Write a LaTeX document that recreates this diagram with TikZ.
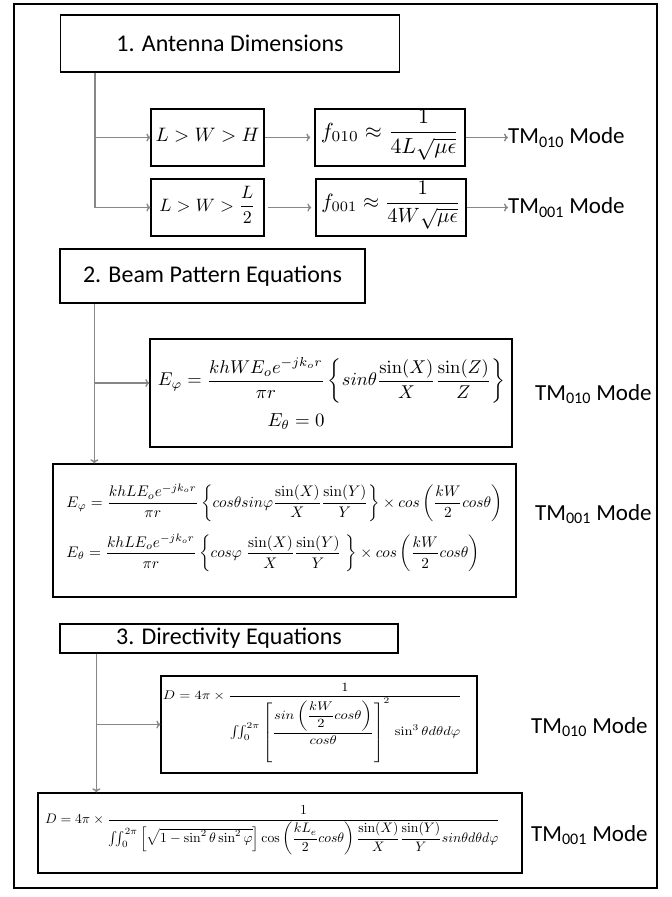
\documentclass[tikz,border=0pt]{standalone}
\usepackage[no-math]{fontspec}
\usepackage{amsmath}
\usepackage{graphicx}
\newfontfamily\calibri{Carlito}
\usetikzlibrary{arrows.meta}
\definecolor{conngray}{RGB}{135,135,135}
\newcommand{\fitw}[2]{\smash{$\vcenter{\hbox{\resizebox{#1pt}{!}{$\displaystyle #2$}}}$}}
\newcommand{\fitwh}[3]{\smash{$\vcenter{\hbox{\resizebox*{#1pt}{#2pt}{$\displaystyle #3$}}}$}}
\tikzset{
  box/.style={draw=black, line width=1.3pt, inner sep=0pt, align=center},
  conn/.style={draw=conngray, line width=1.4pt, -{To[length=4pt,width=8pt]}},
  title/.style={font=\calibri\fontsize{24}{28}\selectfont},
  tm/.style={font=\calibri\fontsize{23}{27}\selectfont, anchor=west, inner sep=0pt},
}
\begin{document}
\begin{tikzpicture}[x=1pt,y=-1pt]
\useasboundingbox (0,0) rectangle (672,897);
\draw[line width=1.3pt] (14,4) rectangle (657,888);

% section 1
\node[box,title,minimum width=339pt,minimum height=57pt] (b1) at (230,43.5) {1. Antenna Dimensions};
\node[box,minimum width=113pt,minimum height=57pt] (c1) at (207.5,137.5) {\fitw{104}{L > W > H}};
\node[box,minimum width=150pt,minimum height=57pt] (f1) at (390,137.5) {\fitw{138}{f_{010}\approx\frac{1}{4L\sqrt{\mu\epsilon}}}};
\node[tm] (m1) at (508,137.5) {TM\textsubscript{010} Mode};
\node[box,minimum width=113pt,minimum height=57pt] (c2) at (207.5,207.5) {\fitw{96}{L > W > \frac{L}{2}}};
\node[box,minimum width=150pt,minimum height=57pt] (f2) at (391,207.5) {\fitw{139}{f_{001}\approx\frac{1}{4W\sqrt{\mu\epsilon}}}};
\node[tm] (m2) at (508,207.5) {TM\textsubscript{001} Mode};

\draw[conn] ([xshift=35pt]b1.south west) |- (c1.west);
\draw[conn] ([xshift=35pt]b1.south west) |- (c2.west);
\draw[conn, shorten >=4pt] (c1.east) -- (f1.west);
\draw[conn, shorten >=4pt, shorten <=3pt] (c2.east) -- (f2.west);
\draw[conn] (f1.east) -- (m1.west);
\draw[conn] (f2.east) -- (m2.west);

% section 2
\node[box,title,minimum width=305pt,minimum height=54pt] (b2) at (212.5,276) {2. Beam Pattern Equations};
\node[box,minimum width=362pt,minimum height=108pt] (b3) at (331,393) {};
\node[inner sep=0pt] (e1) at (331.5,383) {\fitw{347}{E_\varphi=\frac{khWE_oe^{-jk_or}}{\pi r}\left\{sin\theta\frac{\sin(X)}{X}\frac{\sin(Z)}{Z}\right\}}};
\node[inner sep=0pt] (e2) at (296,424) {\fitw{57}{E_\theta=0}};
\node[tm] (m3) at (535,394) {TM\textsubscript{010} Mode};
\node[box,minimum width=463pt,minimum height=133pt] (b4) at (284.5,530.5) {\fitw{436}{\begin{array}{@{}l@{}}
\displaystyle E_\varphi=\frac{khLE_oe^{-jk_or}}{\pi r}\left\{cos\theta sin\varphi\frac{\sin(X)}{X}\frac{\sin(Y)}{Y}\right\}\times cos\left(\frac{kW}{2}cos\theta\right)\\[14pt]
\displaystyle E_\theta=\frac{khLE_oe^{-jk_or}}{\pi r}\left\{cos\varphi\;\frac{\sin(X)}{X}\frac{\sin(Y)}{Y}\;\right\}\times cos\left(\frac{kW}{2}cos\theta\right)
\end{array}}};
\node[tm] (m4) at (535,514) {TM\textsubscript{001} Mode};

\draw[conn] ([xshift=35pt]b2.south west) |- (e1 -| b3.west);
\draw[conn] ([xshift=35pt]b2.south west) -- ([xshift=35pt]b2.south west |- b4.north);

% section 3
\node[box,title,minimum width=338pt,minimum height=29pt] (b5) at (229,638.5) {3. Directivity Equations};
\node[box,minimum width=316pt,minimum height=97pt] (b6) at (319,724.5) {\raisebox{-2pt}{\fitwh{299}{80}{D=4\pi\times\frac{1}{\iint_0^{2\pi}\left[\dfrac{sin\left(\dfrac{kW}{2}cos\theta\right)}{cos\theta}\right]^2\,\sin^3\theta d\theta d\varphi}}}\hspace*{13pt}};
\node[tm] (m5) at (531,727) {TM\textsubscript{010} Mode};
\node[box,minimum width=484pt,minimum height=80pt] (b7) at (280,833) {\fitw{455}{D=4\pi\times\frac{1}{\iint_0^{2\pi}\left[\sqrt{1-\sin^2\theta\sin^2\varphi}\right]\cos\left(\dfrac{kL_e}{2}cos\theta\right)\dfrac{\sin(X)}{X}\dfrac{\sin(Y)}{Y}sin\theta d\theta d\varphi}}\hspace*{15pt}};
\node[tm] (m6) at (531,835) {TM\textsubscript{001} Mode};

\draw[conn] ([xshift=37pt]b5.south west) |- (b6.west);
\draw[conn] ([xshift=37pt]b5.south west) -- ([xshift=37pt]b5.south west |- b7.north);
\end{tikzpicture}
\end{document}
